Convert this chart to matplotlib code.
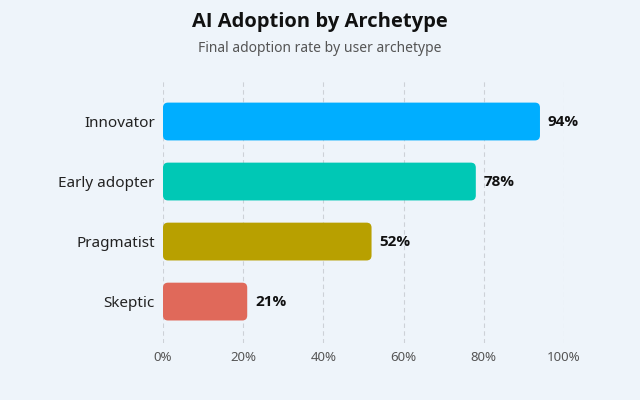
"""Horizontal bar chart of final AI adoption rate per user archetype"""

import matplotlib

matplotlib.use("Agg")
import matplotlib.pyplot as plt
from matplotlib.patches import FancyBboxPatch

archetypes = ["Innovator", "Early adopter", "Pragmatist", "Skeptic"]
adoption = [94, 78, 52, 21]
bar_colors = ["#00AEFF", "#00C8B5", "#B8A000", "#E0695A"]
x_ticks = [0, 20, 40, 60, 80, 100]
x_tick_labels = ["0%", "20%", "40%", "60%", "80%", "100%"]

# regular text in Noto Sans, bold text in Open Sans (no Noto bold here)
plt.rcParams["font.family"] = ["Noto Sans", "DejaVu Sans"]
BOLD = ["Open Sans", "DejaVu Sans"]

bg = "#EEF4FA"
fig = plt.figure(figsize=(6.4, 4.0), dpi=100, facecolor=bg)
ax = fig.add_axes([0.2547, 0.1425, 0.6266, 0.655])
ax.set_facecolor(bg)

bar_h = 0.63
for i, (val, col) in enumerate(zip(adoption, bar_colors)):
    # rounded bar, radius about 5px in both directions
    box = FancyBboxPatch(
        (0, i - bar_h / 2), val, bar_h,
        boxstyle="round,pad=0,rounding_size=1.25",
        mutation_aspect=0.0665,
        facecolor=col, edgecolor="none", zorder=3,
    )
    ax.add_patch(box)
    ax.text(val + 2, i, f"{val}%", va="center", ha="left", family=BOLD,
            fontsize=11, fontweight="bold", color="#111111", zorder=4)

ax.set_xlim(0, 100)
ax.set_ylim(3.69, -0.675)
ax.set_yticks(range(len(archetypes)))
ax.set_yticklabels(archetypes, fontsize=11, color="#222222")
ax.set_xticks(x_ticks)
ax.set_xticklabels(x_tick_labels, fontsize=9.5, color="#555555")
ax.tick_params(axis="both", length=0)
ax.tick_params(axis="y", pad=6)
ax.tick_params(axis="x", pad=6)
ax.grid(axis="x", color="#CDD1D7", linestyle=(0, (4, 3)), linewidth=0.8, zorder=0)
for s in ax.spines.values():
    s.set_visible(False)

fig.text(0.5, 0.945, "AI Adoption by Archetype", ha="center", va="center",
         family=BOLD, fontsize=14.5, fontweight="bold", color="#111111")
fig.text(0.5, 0.88, "Final adoption rate by user archetype", ha="center",
         va="center", fontsize=10, color="#555555")

fig.savefig("out.png", dpi=100, facecolor=bg)
